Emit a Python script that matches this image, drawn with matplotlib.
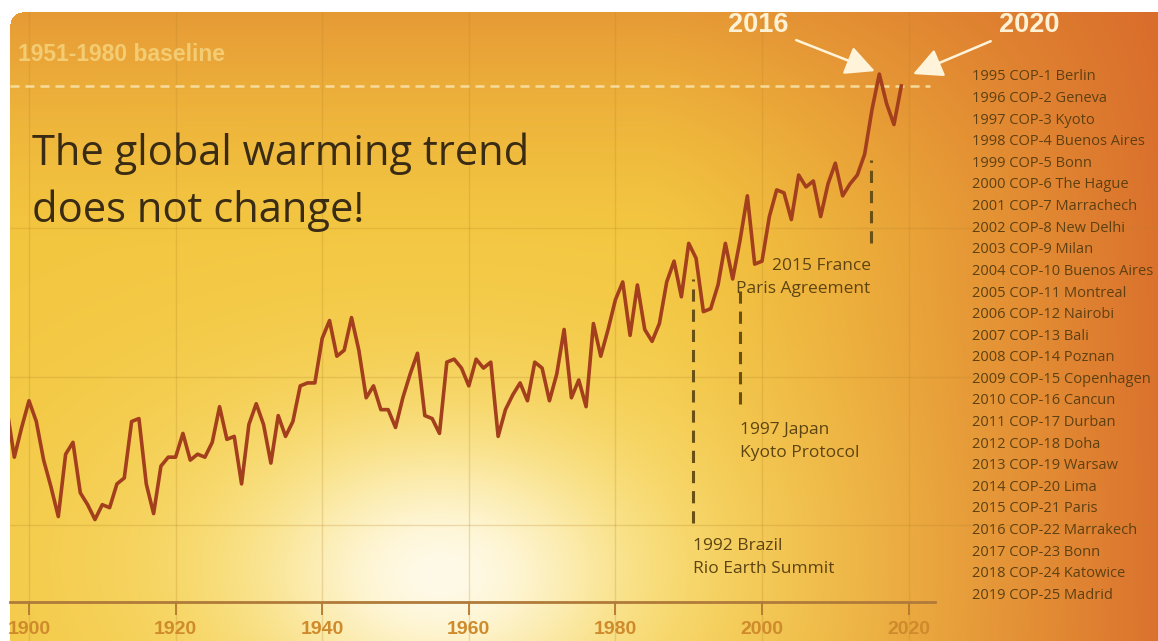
import numpy as np
import matplotlib.pyplot as plt

W, H = 1158, 641

# yearly temperature anomaly
years = list(range(1897, 2020))
anomaly = [-0.11, -0.27, -0.17, -0.08, -0.15, -0.28, -0.37, -0.47, -0.26, -0.22,
           -0.39, -0.43, -0.48, -0.43, -0.44, -0.36, -0.34, -0.15, -0.14, -0.36,
           -0.46, -0.30, -0.27, -0.27, -0.19, -0.28, -0.26, -0.27, -0.22, -0.10,
           -0.21, -0.20, -0.36, -0.16, -0.09, -0.16, -0.29, -0.13, -0.20, -0.15,
           -0.03, -0.02, -0.02, 0.13, 0.19, 0.07, 0.09, 0.20, 0.09, -0.07,
           -0.03, -0.11, -0.11, -0.17, -0.07, 0.01, 0.08, -0.13, -0.14, -0.19,
           0.05, 0.06, 0.03, -0.03, 0.06, 0.03, 0.05, -0.20, -0.11, -0.06,
           -0.02, -0.08, 0.05, 0.03, -0.08, 0.01, 0.16, -0.07, -0.01, -0.10,
           0.18, 0.07, 0.16, 0.26, 0.32, 0.14, 0.31, 0.16, 0.12, 0.18,
           0.32, 0.39, 0.27, 0.45, 0.40, 0.22, 0.23, 0.31, 0.45, 0.33,
           0.46, 0.61, 0.38, 0.39, 0.54, 0.63, 0.62, 0.53, 0.68, 0.64,
           0.66, 0.54, 0.65, 0.72, 0.61, 0.65, 0.68, 0.75, 0.90, 1.02,
           0.92, 0.85, 0.98]

tick_years = [1900, 1920, 1940, 1960, 1980, 2000, 2020]
grid_levels = [-0.5, 0.0, 0.5]
baseline_level = 0.98

event_pos = [1990.6, 1997.0, 2014.8]
event_top = [0.33, 0.30, 0.73]
event_bottom = [-0.49, -0.09, 0.45]
event_text_y = [-0.660, -0.269, 0.283]
event_labels = ['1992 Brazil\nRio Earth Summit',
                '1997 Japan\nKyoto Protocol',
                '2015 France\nParis Agreement']
event_ha = ['left', 'left', 'right']

cop_list = ['1995 COP-1 Berlin', '1996 COP-2 Geneva', '1997 COP-3 Kyoto',
            '1998 COP-4 Buenos Aires', '1999 COP-5 Bonn', '2000 COP-6 The Hague',
            '2001 COP-7 Marrachech', '2002 COP-8 New Delhi', '2003 COP-9 Milan',
            '2004 COP-10 Buenos Aires', '2005 COP-11 Montreal', '2006 COP-12 Nairobi',
            '2007 COP-13 Bali', '2008 COP-14 Poznan', '2009 COP-15 Copenhagen',
            '2010 COP-16 Cancun', '2011 COP-17 Durban', '2012 COP-18 Doha',
            '2013 COP-19 Warsaw', '2014 COP-20 Lima', '2015 COP-21 Paris',
            '2016 COP-22 Marrakech', '2017 COP-23 Bonn', '2018 COP-24 Katowice',
            '2019 COP-25 Madrid']

# --- sunset background ---
yy, xx = np.mgrid[0:H, 0:W].astype(float)
yellow = np.array([243, 198, 63]) / 255
red = np.array([216, 104, 43]) / 255
h = np.clip((xx - 650) / 550, 0, 1) ** 1.3
v = np.clip((250 - yy) / 250, 0, 1) ** 1.5 * 0.5
w = (1 - (1 - h) * (1 - v))[..., None]
img = yellow * (1 - w) + red * w
g1 = (np.exp(-((xx - 430) / 340) ** 2 - ((yy - 560) / 200) ** 2) * 0.8)[..., None]
img = img * (1 - g1) + np.array([251, 232, 140]) / 255 * g1
g2 = np.exp(-((xx - 440) / 160) ** 2 - ((yy - 575) / 115) ** 2)[..., None]
img = img * (1 - g2) + np.array([255, 250, 232]) / 255 * g2
mask = (xx >= 10) & (yy >= 12)
corner = (xx < 22) & (yy < 24) & ((xx - 22) ** 2 + (yy - 24) ** 2 > 144)
img[~mask | corner] = 1.0

fig = plt.figure(figsize=(W / 100, H / 100), dpi=100)
bg = fig.add_axes([0, 0, 1, 1])
bg.imshow(img, extent=[0, W, H, 0], interpolation='bilinear')
bg.set_xlim(0, W)
bg.set_ylim(H, 0)
bg.axis('off')

ax = fig.add_axes([10 / W, 0, (W - 10) / W, (H - 12) / H])
ax.patch.set_alpha(0)
ax.set_xlim(1897.41, 2054.02)
ax.set_ylim(-0.889, 1.229)

ax.set_xticks(tick_years)
ax.set_yticks(grid_levels)
ax.grid(True, color='#b8862a', alpha=0.25, lw=1)
ax.tick_params(axis='y', left=False, labelleft=False)
for s in ['top', 'left', 'right']:
    ax.spines[s].set_visible(False)
ax.spines['bottom'].set_position(('data', -0.758))
ax.spines['bottom'].set_bounds(1897.41, 2023.6)
ax.spines['bottom'].set_color('#b07a3a')
ax.spines['bottom'].set_linewidth(2)
ax.tick_params(axis='x', direction='out', length=9, width=1.3, color='#b5782e',
               pad=4.5, labelsize=14, labelcolor='#cf8a2c')
for lab in ax.get_xticklabels():
    lab.set_fontfamily('Liberation Sans')
    lab.set_fontweight('bold')

ax.axhline(baseline_level, xmin=0, xmax=(930 - 10) / (W - 10), color='#f8e2a6',
           lw=1.8, ls=(0, (3.6, 2.4)), alpha=0.9)
ax.plot(years, anomaly, color='#a33f1c', lw=2.6, zorder=5)

ax.vlines(event_pos, event_bottom, event_top, colors='#6a5012', lw=2.2,
          linestyles=(0, (4, 2.6)))
for x, y, lab, ha in zip(event_pos, event_text_y, event_labels, event_ha):
    ax.text(x, y, lab, ha=ha, va='baseline', multialignment=ha, fontsize=12.5,
            family='Open Sans', color='#5e4412', linespacing=1.6)

arrow = dict(arrowstyle='-|>,head_length=0.9,head_width=0.45', color='#fff3da',
             lw=1.8, shrinkA=4, shrinkB=0, mutation_scale=20)
ax.annotate('2016', xy=(2015.4, 1.03), xytext=(1999.45, 1.185), ha='center',
            va='center', fontsize=19.5, family='Liberation Sans', weight='bold',
            color='#fff1d4', arrowprops=arrow)
ax.annotate('2020', xy=(2020.6, 1.02), xytext=(2036.4, 1.185), ha='center',
            va='center', fontsize=19.5, family='Liberation Sans', weight='bold',
            color='#fff1d4', arrowprops=arrow)

fig.text(18 / W, 1 - 61 / H, '1951-1980 baseline', va='baseline', fontsize=16.5,
         weight='bold', family='Liberation Sans', color='#f6d682', alpha=0.8)
fig.text(32 / W, 1 - 222 / H, 'The global warming trend\ndoes not change!',
         va='baseline', fontsize=30, family='Open Sans', color='#3a2b14',
         linespacing=1.45)

for i, s in enumerate(cop_list):
    fig.text(972 / W, 1 - (77 + i * 21.6) / H, s, va='center', ha='left',
             fontsize=10.5, family='Open Sans', color='#5e4012')

fig.savefig('out.png', dpi=100)
